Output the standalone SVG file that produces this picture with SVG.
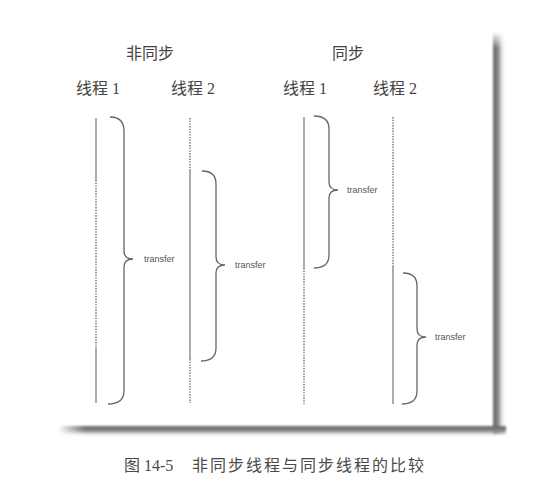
<svg xmlns="http://www.w3.org/2000/svg" width="546" height="499" viewBox="0 0 546 499">
<style>
.hd{font-family:"Liberation Serif","Noto Sans CJK SC",serif;font-size:16px;fill:#444}
.cap{font-family:"Liberation Serif","Noto Sans CJK SC",serif;font-size:16px;fill:#4a4a4a}
.sp{letter-spacing:2px}
.tr{font-family:"Liberation Sans",Arial,sans-serif;font-size:9px;fill:#555}
.solid{stroke:#777;stroke-width:1.2;fill:none}
.dot{stroke:#666;stroke-width:1.3;fill:none;stroke-dasharray:1.4 1.3}
.brace{stroke:#666;stroke-width:1.3;fill:none}
</style>
<defs>
<linearGradient id="gr" x1="0" y1="0" x2="1" y2="0">
<stop offset="0" stop-color="#666"/>
<stop offset="0.4" stop-color="#888"/>
<stop offset="1" stop-color="#fff" stop-opacity="0"/>
</linearGradient>
<linearGradient id="gb" x1="0" y1="0" x2="0" y2="1">
<stop offset="0" stop-color="#666"/>
<stop offset="0.45" stop-color="#888"/>
<stop offset="1" stop-color="#fff" stop-opacity="0"/>
</linearGradient>
<linearGradient id="gbl" x1="0" y1="0" x2="1" y2="0">
<stop offset="0" stop-color="#fff" stop-opacity="1"/>
<stop offset="0.06" stop-color="#fff" stop-opacity="0"/>
</linearGradient>
<linearGradient id="grt" x1="0" y1="0" x2="0" y2="1">
<stop offset="0" stop-color="#fff" stop-opacity="1"/>
<stop offset="0.04" stop-color="#fff" stop-opacity="0"/>
</linearGradient>
<filter id="bl" x="-20%" y="-20%" width="140%" height="140%"><feGaussianBlur stdDeviation="1"/></filter>
</defs>
<rect width="546" height="499" fill="#fff"/>
<g id="shadow" filter="url(#bl)">
<rect x="493" y="32" width="13" height="402" fill="url(#gr)"/>
<rect x="493" y="32" width="13" height="402" fill="url(#grt)"/>
<rect x="58" y="426" width="448" height="11" fill="url(#gb)"/>
<rect x="58" y="426" width="448" height="11" fill="url(#gbl)"/>
</g>
<g id="headers">
<text class="hd" x="126" y="59">非同步</text>
<text class="hd" x="332" y="59">同步</text>
</g>
<g id="async-thread1">
<text class="hd" x="76" y="94">线程 1</text>
<line class="solid" x1="96" y1="118" x2="96" y2="180"/>
<line class="dot" x1="96" y1="180" x2="96" y2="347"/>
<line class="solid" x1="96" y1="347" x2="96" y2="403"/>
</g>
<g id="async-thread2">
<text class="hd" x="171" y="94">线程 2</text>
<line class="dot" x1="190" y1="118" x2="190" y2="170"/>
<line class="solid" x1="190" y1="170" x2="190" y2="359"/>
<line class="dot" x1="190" y1="359" x2="190" y2="403"/>
</g>
<g id="sync-thread1">
<text class="hd" x="283" y="94">线程 1</text>
<line class="solid" x1="304" y1="117" x2="304" y2="268"/>
<line class="dot" x1="304" y1="268" x2="304" y2="404"/>
</g>
<g id="sync-thread2">
<text class="hd" x="373" y="94">线程 2</text>
<line class="dot" x1="393" y1="117" x2="393" y2="267"/>
<line class="solid" x1="393" y1="267" x2="393" y2="404"/>
</g>
<g id="transfers">
<g id="transfer-a1">
<path class="brace" d="M110,117 Q124,117 124,131 L124,251 Q124,259 133,259 Q124,259 124,267 L124,391 Q124,404 108,404"/>
<text class="tr" x="144" y="262">transfer</text>
</g>
<g id="transfer-a2">
<path class="brace" d="M202,171 Q216,171 216,184 L216,257 Q216,265 225,265 Q216,265 216,273 L216,348 Q216,361 201,361"/>
<text class="tr" x="235" y="268">transfer</text>
</g>
<g id="transfer-s1">
<path class="brace" d="M314,116 Q329,116 329,129 L329,182 Q329,190 338,190 Q329,190 329,198 L329,255 Q329,268 314,268"/>
<text class="tr" x="347" y="193">transfer</text>
</g>
<g id="transfer-s2">
<path class="brace" d="M403,273 Q417,273 417,286 L417,329 Q417,337 426,337 Q417,337 417,345 L417,391 Q417,404 402,404"/>
<text class="tr" x="435" y="340">transfer</text>
</g>
</g>
<g id="caption">
<text class="cap" x="124" y="471">图 14-5</text>
<text class="cap sp" x="192" y="471">非同步线程与同步线程的比较</text>
</g>
</svg>
